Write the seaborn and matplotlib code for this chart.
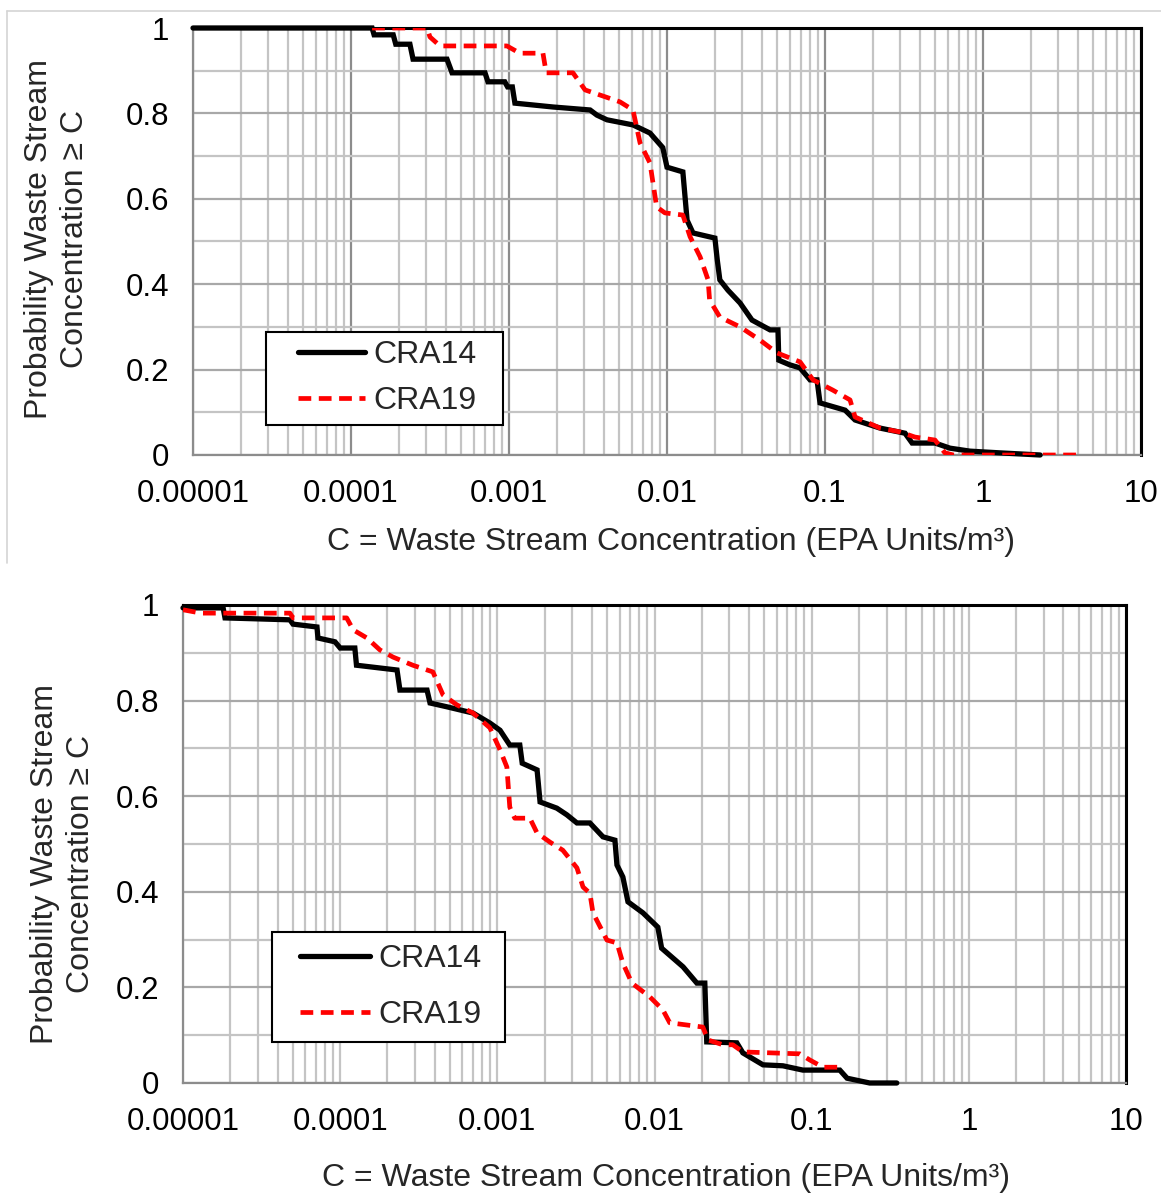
import numpy as np
import pandas as pd
import matplotlib
matplotlib.use("Agg")
import matplotlib.pyplot as plt
import seaborn as sns
from matplotlib.lines import Line2D
from matplotlib.patches import Rectangle
from matplotlib.ticker import FixedLocator, LogLocator, NullFormatter

sns.set_style("white")
plt.rcParams['font.family'] = ['Liberation Sans', 'DejaVu Sans']

# ---------------- data ----------------
series_names = ["CRA14", "CRA19"]
x_tick_values = [1e-5, 1e-4, 1e-3, 1e-2, 1e-1, 1, 10]
x_tick_labels = ["0.00001", "0.0001", "0.001", "0.01", "0.1", "1", "10"]
y_tick_values = [0, 0.2, 0.4, 0.6, 0.8, 1.0]
y_tick_labels = ["0", "0.2", "0.4", "0.6", "0.8", "1"]

# Upper panel: CRA14
top_cra14_conc = [1e-5, 1.36e-4, 1.40e-4, 1.85e-4, 1.92e-4, 2.36e-4, 2.47e-4, 4.05e-4,
                  4.36e-4, 7.05e-4, 7.36e-4, 9.4e-4, 9.8e-4, 1.05e-3, 1.09e-3, 1.90e-3,
                  3.26e-3, 3.6e-3, 4.17e-3, 6.09e-3, 7.8e-3, 9.4e-3, 1.0e-2, 1.26e-2,
                  1.34e-2, 1.46e-2, 2.01e-2, 2.08e-2, 2.16e-2, 2.43e-2, 2.90e-2, 3.45e-2,
                  4.49e-2, 5.04e-2, 5.1e-2, 6.0e-2, 6.95e-2, 8.04e-2, 8.9e-2, 9.3e-2,
                  0.134, 0.155, 0.223, 0.321, 0.356, 0.497, 0.618, 0.828, 1.28, 2.3]
top_cra14_prob = [1.0, 1.0, 0.984, 0.984, 0.962, 0.962, 0.927, 0.927,
                  0.895, 0.895, 0.874, 0.874, 0.862, 0.862, 0.824, 0.815,
                  0.808, 0.796, 0.785, 0.773, 0.754, 0.720, 0.674, 0.663,
                  0.550, 0.520, 0.508, 0.457, 0.410, 0.386, 0.356, 0.316,
                  0.293, 0.293, 0.222, 0.211, 0.204, 0.176, 0.176, 0.122,
                  0.105, 0.082, 0.063, 0.051, 0.028, 0.028, 0.016, 0.009, 0.005, 0.0]

# Upper panel: CRA19
top_cra19_conc = [1.36e-4, 3.03e-4, 3.16e-4, 3.66e-4, 9.7e-4, 1.17e-3, 1.64e-3, 1.72e-3,
                  2.54e-3, 3.03e-3, 5.04e-3, 6.09e-3, 6.75e-3, 7.8e-3, 8.6e-3, 9.7e-3,
                  1.26e-2, 1.40e-2, 1.62e-2, 1.82e-2, 1.86e-2, 2.16e-2, 2.90e-2, 3.88e-2,
                  4.97e-2, 6.95e-2, 8.4e-2, 0.112, 0.144, 0.155, 0.223, 0.298, 0.371,
                  0.497, 0.574, 0.65, 4.11]
top_cra19_prob = [1.0, 1.0, 0.979, 0.958, 0.958, 0.941, 0.941, 0.895,
                  0.895, 0.855, 0.827, 0.808, 0.731, 0.684, 0.581, 0.567,
                  0.562, 0.511, 0.464, 0.410, 0.363, 0.323, 0.300, 0.269,
                  0.239, 0.218, 0.176, 0.152, 0.129, 0.089, 0.063, 0.054, 0.042,
                  0.035, 0.005, 0.0, 0.0]

# Lower panel: CRA14
bot_cra14_conc = [1e-5, 1.80e-5, 1.85e-5, 4.79e-5, 5.01e-5, 7.12e-5, 7.22e-5, 9.27e-5,
                  1.0e-4, 1.24e-4, 1.27e-4, 2.30e-4, 2.40e-4, 3.57e-4, 3.73e-4, 4.78e-4,
                  7.0e-4, 8.97e-4, 1.04e-3, 1.20e-3, 1.39e-3, 1.44e-3, 1.79e-3, 1.87e-3,
                  2.39e-3, 2.77e-3, 3.21e-3, 3.88e-3, 4.70e-3, 5.60e-3, 5.77e-3, 6.29e-3,
                  6.78e-3, 8.44e-3, 1.05e-2, 1.11e-2, 1.52e-2, 1.86e-2, 2.09e-2, 2.15e-2,
                  3.34e-2, 3.65e-2, 4.90e-2, 6.56e-2, 8.79e-2, 0.151, 0.168, 0.234, 0.348]
bot_cra14_prob = [0.994, 0.994, 0.973, 0.969, 0.960, 0.954, 0.931, 0.923,
                  0.910, 0.910, 0.874, 0.864, 0.822, 0.822, 0.795, 0.787,
                  0.774, 0.753, 0.738, 0.707, 0.707, 0.669, 0.655, 0.588,
                  0.575, 0.561, 0.544, 0.544, 0.515, 0.508, 0.456, 0.431,
                  0.379, 0.356, 0.326, 0.282, 0.243, 0.209, 0.209, 0.086,
                  0.084, 0.063, 0.038, 0.036, 0.027, 0.027, 0.010, 0.0, 0.0]

# Lower panel: CRA19
bot_cra19_conc = [1e-5, 1.3e-5, 4.79e-5, 5.01e-5, 1.10e-4, 1.21e-4, 1.48e-4, 1.79e-4,
                  2.17e-4, 2.90e-4, 3.89e-4, 4.51e-4, 5.53e-4, 7.0e-4, 8.97e-4, 1.04e-3,
                  1.15e-3, 1.20e-3, 1.29e-3, 1.61e-3, 1.79e-3, 2.16e-3, 2.61e-3, 3.21e-3,
                  3.51e-3, 3.88e-3, 4.06e-3, 4.98e-3, 5.77e-3, 6.29e-3, 7.18e-3, 9.35e-3,
                  1.13e-2, 1.25e-2, 2.03e-2, 2.19e-2, 2.72e-2, 3.15e-2, 3.65e-2, 8.41e-2,
                  9.75e-2, 0.118, 0.158]
bot_cra19_prob = [0.990, 0.983, 0.983, 0.973, 0.973, 0.948, 0.931, 0.906,
                  0.891, 0.874, 0.860, 0.812, 0.791, 0.774, 0.743, 0.697,
                  0.661, 0.577, 0.554, 0.554, 0.523, 0.504, 0.487, 0.450,
                  0.410, 0.397, 0.356, 0.299, 0.293, 0.251, 0.209, 0.180,
                  0.153, 0.126, 0.117, 0.090, 0.080, 0.080, 0.065, 0.061,
                  0.048, 0.033, 0.033]

# ---------------- figure ----------------
W, H = 1161, 1193
fig = plt.figure(figsize=(W / 100, H / 100), dpi=100)
ax_top = fig.add_axes([193 / W, 1 - 455 / H, 948 / W, 427 / H])
ax_bot = fig.add_axes([183 / W, 1 - 1083 / H, 943 / W, 478 / H])

# light frame around the upper chart
frame_kw = dict(color="#d4d4d4", lw=1.2, transform=fig.transFigure)
fig.add_artist(Line2D([7 / W, 7 / W], [1 - 563 / H, 1 - 11 / H], **frame_kw))
fig.add_artist(Line2D([7 / W, 1.0], [1 - 11 / H, 1 - 11 / H], **frame_kw))

BLACK_LW = 3.8
RED_LW = 3.4
RED_DASH = (0, (2.7, 1.6))
FS = 23
TICK_FS = 22.5
x_label = "C = Waste Stream Concentration (EPA Units/m\u00b3)"
y_label = "Probability Waste Stream\nConcentration \u2265 C"


def draw_panel(ax, c14, p14, c19, p19, dark_decades):
    df14 = pd.DataFrame({"C": c14, "P": p14})
    df19 = pd.DataFrame({"C": c19, "P": p19})
    sns.lineplot(data=df14, x="C", y="P", ax=ax, sort=False, estimator=None,
                 color="black", lw=BLACK_LW, label=series_names[0],
                 solid_joinstyle="miter", zorder=3, clip_on=False)
    sns.lineplot(data=df19, x="C", y="P", ax=ax, sort=False, estimator=None,
                 color="#ff0000", lw=RED_LW, label=series_names[1],
                 linestyle=RED_DASH, zorder=4)
    ax.set_xscale("log")
    ax.set_xlim(1e-5, 10)
    ax.set_ylim(0, 1)
    ax.xaxis.set_major_locator(FixedLocator(x_tick_values))
    ax.set_xticklabels(x_tick_labels)
    ax.xaxis.set_minor_locator(LogLocator(base=10, subs=np.arange(2, 10), numticks=20))
    ax.xaxis.set_minor_formatter(NullFormatter())
    ax.yaxis.set_major_locator(FixedLocator(y_tick_values))
    ax.set_yticklabels(y_tick_labels)
    ax.yaxis.set_minor_locator(FixedLocator([0.1, 0.3, 0.5, 0.7, 0.9]))

    light = "#c4c4c4"
    ax.grid(which="major", axis="x", color="#8c8c8c" if dark_decades else light, lw=1.6)
    ax.grid(which="minor", axis="x", color=light, lw=1.6)
    ax.grid(which="major", axis="y", color="#a8a8a8", lw=1.6)
    ax.grid(which="minor", axis="y", color=light, lw=1.6)
    ax.set_axisbelow(True)

    ax.tick_params(which="minor", length=0)
    ax.tick_params(which="major", length=9, width=1.5, color="#8c8c8c",
                   labelsize=TICK_FS, labelcolor="black", direction="out")
    ax.tick_params(axis="x", which="major", pad=8)
    ax.tick_params(axis="y", which="major", pad=8)
    for side in ("left", "bottom"):
        ax.spines[side].set_color("#8c8c8c")
        ax.spines[side].set_linewidth(1.6)
    for side in ("top", "right"):
        ax.spines[side].set_color("black")
        ax.spines[side].set_linewidth(2.2)
    ax.set_xlabel(x_label, fontsize=FS)
    ax.set_ylabel(y_label, fontsize=FS, linespacing=1.25)


def add_legend(ax, box, anchor, handlelength, labelspacing):
    x0, y0, x1, y1 = box
    ax.add_patch(Rectangle((x0, y0), x1 - x0, y1 - y0, transform=ax.transAxes,
                           facecolor="white", edgecolor="black", lw=1.5, zorder=6))
    leg = ax.legend(loc="center left", bbox_to_anchor=anchor, frameon=False,
                    fontsize=FS, handlelength=handlelength, handletextpad=0.25,
                    borderpad=0, borderaxespad=0, labelspacing=labelspacing)
    leg.set_zorder(7)
    return leg


draw_panel(ax_top, top_cra14_conc, top_cra14_prob, top_cra19_conc, top_cra19_prob, True)
draw_panel(ax_bot, bot_cra14_conc, bot_cra14_prob, bot_cra19_conc, bot_cra19_prob, False)

ax_top.yaxis.set_label_coords(-0.109, 0.506)
ax_top.xaxis.set_label_coords(0.5047, -0.169)
ax_bot.yaxis.set_label_coords(-0.092, 0.458)
ax_bot.xaxis.set_label_coords(0.512, -0.167)

add_legend(ax_top, (0.0770, 0.0703, 0.327, 0.288), (0.1108, 0.1800), 2.1, 0.48)
add_legend(ax_bot, (0.0944, 0.0858, 0.3415, 0.3159), (0.1241, 0.2000), 2.2, 0.82)

fig.savefig("out.png", dpi=100)
